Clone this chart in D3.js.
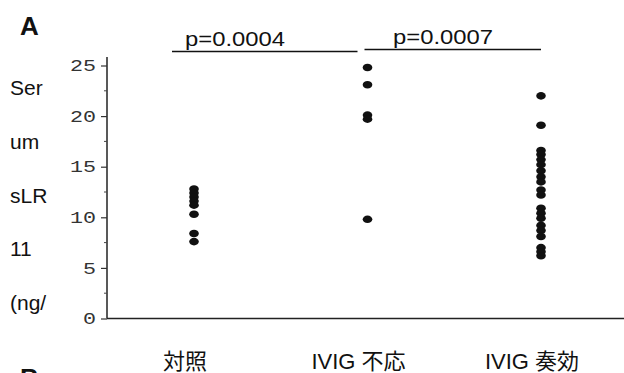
<!DOCTYPE html>
<html><head><meta charset="utf-8">
<script src="https://cdn.jsdelivr.net/npm/d3@7"></script>
<style>body{margin:0;background:#fff}svg{display:block}</style>
</head><body><svg id="c" width="624" height="373"></svg>
<script>
const categories = ["対照", "IVIG 不応", "IVIG 奏効"];
const controlValues = [12.8, 12.4, 12.0, 11.6, 11.2, 10.3, 8.4, 7.6];
const nonResponderValues = [24.8, 23.1, 20.1, 19.7, 9.8];
const responderValues = [22.0, 19.1, 16.6, 16.2, 15.7, 15.2, 14.6, 14.0, 13.5, 12.7, 12.2, 10.9, 10.4, 9.9, 9.2, 8.7, 8.1, 7.0, 6.6, 6.2];
const yTicks = [0, 5, 10, 15, 20, 25];
const yLabelLines = ["Ser", "um", "sLR", "11", "(ng/"];
const comparisons = [{from: 0, to: 1, label: "p=0.0004"}, {from: 1, to: 2, label: "p=0.0007"}];

const svg = d3.select("#c");
const y = d3.scaleLinear().domain([0, 25]).range([318.5, 65.5]);
const x = d3.scalePoint().domain(categories).range([194, 541]);
const axisX = 107;
const sans = "'Liberation Sans', Arial, 'Noto Sans CJK JP', sans-serif";

// Y axis
const yAxis = d3.axisLeft(y).tickValues(yTicks).tickSize(6).tickPadding(5);
const gy = svg.append("g").attr("transform", `translate(${axisX},0)`).call(yAxis);
gy.select(".domain").attr("d", `M0,57V${y(0)}`).attr("stroke", "#222").attr("stroke-width", 1.5);
gy.selectAll(".tick line").attr("stroke", "#333").attr("stroke-width", 1.2);
gy.selectAll(".tick text").attr("font-family", "'Liberation Mono', 'DejaVu Sans Mono', monospace")
  .attr("font-size", 16).attr("fill", "#333")
  .attr("textLength", d => String(d).length * 13).attr("lengthAdjust", "spacingAndGlyphs");
// minor ticks
const minor = d3.range(2.5, 25, 5);
svg.append("g").selectAll("line").data(minor).join("line")
  .attr("x1", axisX - 3).attr("x2", axisX).attr("y1", d => y(d)).attr("y2", d => y(d))
  .attr("stroke", "#444").attr("stroke-width", 1);

// X axis line
svg.append("line").attr("x1", axisX).attr("x2", 624).attr("y1", y(0)).attr("y2", y(0))
  .attr("stroke", "#222").attr("stroke-width", 1.5);

// Category labels
svg.append("g").selectAll("text").data(categories).join("text")
  .attr("x", d => x(d) - 9).attr("y", 369).attr("text-anchor", "middle")
  .attr("font-family", sans).attr("font-size", 22)
  .attr("fill", "#111").text(d => d);

// Dots
const groups = [controlValues, nonResponderValues, responderValues];
groups.forEach((vals, i) => {
  svg.append("g").selectAll("ellipse").data(vals).join("ellipse")
    .attr("cx", x(categories[i])).attr("cy", d => y(d)).attr("rx", 4.8).attr("ry", 3.8)
    .attr("fill", "#111");
});

// Significance bars
const barY = [51.5, 49.5];
const textX = [185, 393];
comparisons.forEach((c, i) => {
  const x1 = x(categories[c.from]) - 22 + (i ? 19 : 0);
  const x2 = x(categories[c.to]) - (i ? 0 : 10);
  svg.append("line").attr("x1", x1).attr("x2", x2).attr("y1", barY[i]).attr("y2", barY[i])
    .attr("stroke", "#111").attr("stroke-width", 1.5);
  svg.append("text").attr("x", textX[i]).attr("y", barY[i] - 6)
    .attr("font-family", sans).attr("font-size", 21)
    .attr("textLength", 100).attr("lengthAdjust", "spacingAndGlyphs")
    .attr("fill", "#111").text(c.label);
});

// Y label lines
svg.append("g").selectAll("text").data(yLabelLines).join("text")
  .attr("x", 10).attr("y", (d, i) => 95 + i * 53.8)
  .attr("font-family", sans).attr("font-size", 21)
  .attr("fill", "#111").text(d => d);

// Panel letters
svg.append("text").attr("x", 20).attr("y", 35).attr("font-family", sans)
  .attr("font-size", 26).attr("font-weight", "bold").attr("fill", "#111").text("A");
svg.append("text").attr("x", 20).attr("y", 387).attr("font-family", sans)
  .attr("font-size", 26).attr("font-weight", "bold").attr("fill", "#111").text("B");
</script></body></html>
